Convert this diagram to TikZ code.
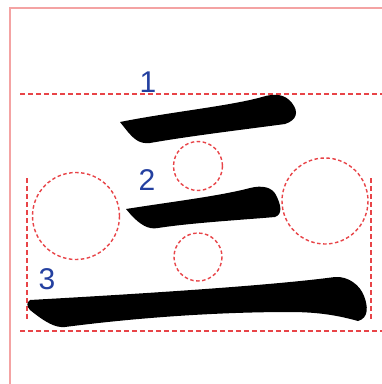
\documentclass[tikz,border=0pt]{standalone}
\usepackage{fontspec}
\setmainfont{Liberation Sans}
\definecolor{guide}{HTML}{E84448}
\definecolor{frame}{HTML}{F4A3A3}
\definecolor{numblue}{HTML}{2440A0}
\tikzset{
  guideline/.style={draw=guide, line width=1.6pt, dash pattern=on 4.5pt off 3.5pt},
  guidecircle/.style={draw=guide, line width=1.4pt, dash pattern=on 3.5pt off 2.5pt},
  num/.style={text=numblue, inner sep=0pt, font=\fontsize{30}{30}\selectfont},
  brush/.style={fill=black}
}
\begin{document}
\begin{tikzpicture}[x=1pt,y=-1pt]
\useasboundingbox[fill=white] (0,0) rectangle (382,384);
% frame
\draw[frame, line width=2pt] (10,384) -- (10,8) -- (382,8);
% guide lines
\coordinate (h1a) at (20,94); \coordinate (h1b) at (382,94);
\coordinate (h2a) at (20,331); \coordinate (h2b) at (382,331);
\coordinate (v1a) at (27,178); \coordinate (v1b) at (27,322);
\coordinate (v2a) at (371,178); \coordinate (v2b) at (371,322);
\draw[guideline] (h1a) -- (h1b);
\draw[guideline] (h2a) -- (h2b);
\draw[guideline] (v1a) -- (v1b);
\draw[guideline] (v2a) -- (v2b);
% circles
\draw[guidecircle] (198,166) circle (24.5);
\draw[guidecircle] (198,257) circle (24);
\draw[guidecircle] (76,216) circle (43.5);
\draw[guidecircle] (325,201) circle (43);
% strokes
\fill[brush] (120,122) .. controls (170,112) and (230,106) .. (262,97)
  .. controls (275,93) and (285,94) .. (292,103)
  .. controls (299,112) and (297,120) .. (285,124)
  .. controls (240,130) and (190,136) .. (150,143)
  .. controls (140,144) and (135,140) .. (128,132) -- cycle;
\fill[brush] (126,209) .. controls (170,202) and (220,196) .. (250,188)
  .. controls (262,185) and (272,187) .. (276,195)
  .. controls (281,205) and (283,214) .. (275,217)
  .. controls (240,220) and (190,223) .. (158,228)
  .. controls (148,230) and (140,224) .. (132,216) -- cycle;
\fill[brush] (30,300) .. controls (100,296) and (260,287) .. (335,277)
  .. controls (348,276) and (360,285) .. (364,296)
  .. controls (368,306) and (369,318) .. (358,321)
  .. controls (340,316) and (320,312) .. (290,312)
  .. controls (230,312) and (150,316) .. (65,327)
  .. controls (55,328) and (45,322) .. (30,310)
  .. controls (26,306) and (27,302) .. (30,300) -- cycle;
% numbers
\node[num] (n1) at (148,82) {1};
\node[num] (n2) at (147,180) {2};
\node[num] (n3) at (47,279) {3};
\end{tikzpicture}
\end{document}
